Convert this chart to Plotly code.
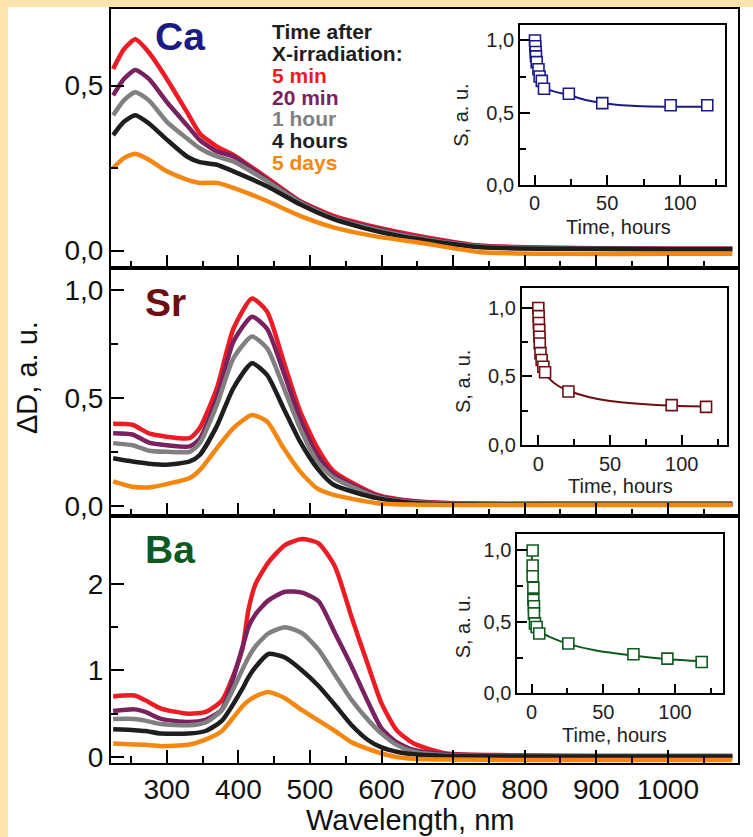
import plotly.graph_objects as go

# ---------------- data ----------------
series_names = ["5 min", "20 min", "1 hour", "4 hours", "5 days"]
series_colors = ["#EC1C24", "#7A2260", "#808080", "#1E1E1E", "#F5860F"]

wl_ca = [225, 240, 256, 275, 300, 328, 346, 370, 393, 440, 486, 533, 594, 650, 738, 850, 1000, 1090]
ca_5min = [0.55, 0.61, 0.64, 0.60, 0.52, 0.42, 0.355, 0.315, 0.29, 0.22, 0.15, 0.105, 0.07, 0.045, 0.015, 0.008, 0.005, 0.005]
ca_20min = [0.47, 0.52, 0.547, 0.52, 0.45, 0.38, 0.335, 0.30, 0.285, 0.215, 0.148, 0.10, 0.066, 0.04, 0.013, 0.007, 0.005, 0.005]
ca_1h = [0.41, 0.455, 0.48, 0.455, 0.39, 0.34, 0.31, 0.285, 0.27, 0.21, 0.145, 0.098, 0.062, 0.038, 0.012, 0.006, 0.004, 0.004]
ca_4h = [0.35, 0.39, 0.41, 0.385, 0.336, 0.285, 0.268, 0.26, 0.24, 0.195, 0.14, 0.095, 0.058, 0.035, 0.01, 0.005, 0.004, 0.004]
ca_5d = [0.25, 0.28, 0.293, 0.275, 0.24, 0.215, 0.205, 0.205, 0.19, 0.15, 0.105, 0.07, 0.042, 0.025, -0.005, -0.01, -0.01, -0.01]

wl_sr = [225, 252, 275, 300, 332, 346, 370, 393, 419, 440, 463, 486, 510, 533, 594, 650, 738, 850, 1000, 1090]
sr_5min = [0.38, 0.375, 0.335, 0.32, 0.313, 0.36, 0.545, 0.82, 0.96, 0.90, 0.67, 0.44, 0.27, 0.16, 0.05, 0.02, 0.01, 0.01, 0.01, 0.01]
sr_20min = [0.336, 0.33, 0.292, 0.28, 0.275, 0.31, 0.50, 0.76, 0.876, 0.82, 0.62, 0.405, 0.236, 0.145, 0.045, 0.018, 0.008, 0.008, 0.008, 0.008]
sr_1h = [0.29, 0.28, 0.255, 0.25, 0.25, 0.29, 0.468, 0.683, 0.784, 0.73, 0.55, 0.36, 0.205, 0.13, 0.04, 0.015, 0.007, 0.007, 0.007, 0.007]
sr_4h = [0.22, 0.205, 0.195, 0.19, 0.205, 0.235, 0.37, 0.545, 0.66, 0.606, 0.452, 0.298, 0.174, 0.097, 0.035, 0.012, 0.006, 0.005, 0.005, 0.005]
sr_5d = [0.113, 0.088, 0.085, 0.10, 0.128, 0.165, 0.267, 0.36, 0.42, 0.39, 0.267, 0.159, 0.08, 0.05, 0.012, 0.005, 0.003, 0.003, 0.003, 0.003]

wl_ba = [225, 255, 270, 292, 330, 354, 377, 405, 414, 424, 442, 465, 489, 512, 535, 558, 582, 600, 621, 645, 691, 784, 900, 1000, 1090]
ba_5min = [0.70, 0.71, 0.655, 0.56, 0.50, 0.52, 0.655, 1.23, 1.7, 2.0, 2.25, 2.45, 2.52, 2.47, 2.2, 1.62, 1.04, 0.62, 0.31, 0.155, 0.04, 0.02, 0.01, 0.01, 0.01]
ba_20min = [0.53, 0.55, 0.52, 0.44, 0.405, 0.43, 0.55, 1.25, 1.5, 1.65, 1.81, 1.91, 1.9, 1.8, 1.43, 1.05, 0.62, 0.33, 0.17, 0.08, 0.03, 0.015, 0.01, 0.01, 0.01]
ba_1h = [0.44, 0.44, 0.42, 0.38, 0.366, 0.40, 0.54, 1.0, 1.15, 1.28, 1.43, 1.5, 1.43, 1.24, 0.95, 0.66, 0.42, 0.27, 0.14, 0.06, 0.02, 0.01, 0.008, 0.008, 0.008]
ba_4h = [0.32, 0.31, 0.30, 0.27, 0.27, 0.30, 0.42, 0.78, 0.92, 1.04, 1.19, 1.15, 1.0, 0.82, 0.6, 0.37, 0.19, 0.11, 0.06, 0.03, 0.01, 0.005, 0.005, 0.005, 0.005]
ba_5d = [0.155, 0.145, 0.14, 0.125, 0.14, 0.2, 0.3, 0.58, 0.65, 0.7, 0.75, 0.68, 0.54, 0.42, 0.3, 0.17, 0.09, 0.04, 0.0, -0.02, -0.03, -0.035, -0.035, -0.035, -0.035]

# insets: S(t)
ca_t = [0.3, 0.5, 0.8, 1.0, 1.5, 2.7, 3.5, 5.0, 6.5, 23.6, 46.6, 93.6, 118.8]
ca_s = [1.0, 0.96, 0.92, 0.89, 0.85, 0.80, 0.75, 0.72, 0.665, 0.63, 0.565, 0.55, 0.55]
ca_fit_t = [0, 1, 2, 4, 7, 12, 24, 36, 47, 70, 94, 120]
ca_fit_s = [0.99, 0.86, 0.79, 0.72, 0.67, 0.65, 0.62, 0.585, 0.565, 0.545, 0.54, 0.54]

sr_t = [0, 0.2, 0.4, 0.6, 0.8, 1.0, 1.5, 2.3, 3.5, 4.7, 21, 93, 117]
sr_s = [1.0, 0.94, 0.89, 0.84, 0.79, 0.74, 0.67, 0.62, 0.57, 0.53, 0.39, 0.29, 0.277]
sr_fit_t = [0, 1, 2, 3, 5, 8, 14, 21, 35, 50, 70, 94, 118]
sr_fit_s = [1.0, 0.78, 0.68, 0.61, 0.53, 0.48, 0.43, 0.395, 0.35, 0.32, 0.30, 0.285, 0.28]

ba_t = [0.7, 0.7, 0.7, 1.2, 1.2, 1.6, 1.6, 2.3, 3.5, 5.3, 25.6, 71, 94.7, 118.6]
ba_s = [1.0, 0.895, 0.82, 0.74, 0.655, 0.61, 0.56, 0.49, 0.465, 0.42, 0.35, 0.274, 0.244, 0.22]
ba_fit_t = [0, 0.5, 1, 2, 3, 5, 8, 15, 26, 45, 71, 95, 120]
ba_fit_s = [1.0, 0.85, 0.73, 0.6, 0.52, 0.45, 0.42, 0.385, 0.345, 0.3, 0.265, 0.24, 0.225]

panel_labels = ["Ca", "Sr", "Ba"]
panel_colors = ["#1B1B87", "#6E0E14", "#0E5A1E"]

main_xticks = [300, 400, 500, 600, 700, 800, 900, 1000]
main_xminor = [250, 350, 450, 550, 650, 750, 850, 950, 1050]

# ---------------- layout helpers ----------------
W, H = 753, 837
L, R, T, B = 111, 738, 7, 763


def px(x):
    return (x - L) / (R - L)


def py(y):
    return (B - y) / (B - T)


FONT = "Liberation Sans, Arial, sans-serif"
fig = go.Figure()

panels = [
    (wl_ca, [ca_5min, ca_20min, ca_1h, ca_4h, ca_5d], "x", "y"),
    (wl_sr, [sr_5min, sr_20min, sr_1h, sr_4h, sr_5d], "x2", "y2"),
    (wl_ba, [ba_5min, ba_20min, ba_1h, ba_4h, ba_5d], "x3", "y3"),
]
for wl, ser, xa, ya in panels:
    for name, col, vals in zip(series_names, series_colors, ser):
        fig.add_trace(go.Scatter(x=wl, y=vals, mode="lines", name=name,
                                 line=dict(color=col, width=4.5, shape="spline", smoothing=0.6),
                                 xaxis=xa, yaxis=ya, showlegend=False))

insets = [
    (ca_t, ca_s, ca_fit_t, ca_fit_s, panel_colors[0], "x4", "y4"),
    (sr_t, sr_s, sr_fit_t, sr_fit_s, panel_colors[1], "x5", "y5"),
    (ba_t, ba_s, ba_fit_t, ba_fit_s, panel_colors[2], "x6", "y6"),
]
for t, s, ft, fs, col, xa, ya in insets:
    fig.add_trace(go.Scatter(x=ft, y=fs, mode="lines", line=dict(color=col, width=2, shape="spline", smoothing=0.6),
                             xaxis=xa, yaxis=ya, showlegend=False))
    fig.add_trace(go.Scatter(x=t, y=s, mode="markers",
                             marker=dict(symbol="square", size=11, color="white", line=dict(color=col, width=1.6)),
                             xaxis=xa, yaxis=ya, showlegend=False))

axis_common = dict(showline=True, linecolor="black", linewidth=2, mirror=True, showgrid=False,
                   zeroline=False, ticks="inside", tickcolor="black", tickwidth=2)

main_domains = [[py(267), 1.0], [py(515), py(267)], [0.0, py(515)]]
main_yranges = [[-0.054, 0.732], [-0.046, 1.10], [-0.07, 2.79]]
main_yticks = [([0, 0.5], ["0,0", "0,5"], [0.25]),
               ([0, 0.5, 1.0], ["0,0", "0,5", "1,0"], [0.25, 0.75]),
               ([0, 1, 2], ["0", "1", "2"], [0.5, 1.5])]

lay = {}
for i in range(3):
    xn = "xaxis" if i == 0 else f"xaxis{i + 1}"
    yn = "yaxis" if i == 0 else f"yaxis{i + 1}"
    yref = "y" if i == 0 else f"y{i + 1}"
    xref = "x" if i == 0 else f"x{i + 1}"
    lay[xn] = dict(axis_common, domain=[0, 1], anchor=yref, range=[222, 1098],
                   tickvals=main_xticks, ticklen=13,
                   minor=dict(tickvals=main_xminor, ticklen=7, ticks="inside", tickwidth=2, tickcolor="black"),
                   showticklabels=(i == 2),
                   tickfont=dict(family=FONT, size=28, color="#111"))
    tv, tt, mn = main_yticks[i]
    lay[yn] = dict(axis_common, domain=main_domains[i], anchor=xref, range=main_yranges[i],
                   tickvals=tv, ticktext=tt, ticklen=13,
                   minor=dict(tickvals=mn, ticklen=7, ticks="inside", tickwidth=2, tickcolor="black"),
                   tickfont=dict(family=FONT, size=28, color="#111"))

inset_boxes = [(520, 725, 22.7, 183, [-10, 131], [0, 1.11]),
               (521.7, 726.7, 286.7, 444, [-11.6, 131.4], [0, 1.146]),
               (517.3, 723.3, 533.3, 693.3, [-10, 133.7], [0, 1.116])]
for j, (x0, x1, y0, y1, xr, yr) in enumerate(inset_boxes):
    k = j + 4
    lay[f"xaxis{k}"] = dict(axis_common, domain=[px(x0), px(x1)], anchor=f"y{k}", range=xr,
                            tickvals=[0, 50, 100], ticklen=10, tickwidth=1.5,
                            minor=dict(tickvals=[25, 75, 125], ticklen=6, ticks="inside", tickwidth=1.5, tickcolor="black"),
                            tickfont=dict(family=FONT, size=20, color="#222"), linewidth=1.8)
    lay[f"yaxis{k}"] = dict(axis_common, domain=[py(y1), py(y0)], anchor=f"x{k}", range=yr,
                            tickvals=[0, 0.5, 1.0], ticktext=["0,0", "0,5", "1,0"], ticklen=10, tickwidth=1.5,
                            minor=dict(tickvals=[0.25, 0.75], ticklen=6, ticks="inside", tickwidth=1.5, tickcolor="black"),
                            tickfont=dict(family=FONT, size=20, color="#222"), linewidth=1.8)

annotations = []


def ann(text, x, y, size, color="#111", bold=False, angle=0, xanchor="center", yanchor="middle"):
    annotations.append(dict(text=f"<b>{text}</b>" if bold else text, x=px(x), y=py(y), xref="paper", yref="paper",
                            showarrow=False, textangle=angle, xanchor=xanchor, yanchor=yanchor,
                            font=dict(family=FONT, size=size, color=color)))


# panel labels
ann(panel_labels[0], 153, 35, 39, panel_colors[0], True, xanchor="left")
ann(panel_labels[1], 143, 301, 39, panel_colors[1], True, xanchor="left")
ann(panel_labels[2], 143, 549, 39, panel_colors[2], True, xanchor="left")

# legend block
legend_lines = [("Time after", "#1E1E1E"), ("X-irradiation:", "#1E1E1E")] + list(zip(series_names, series_colors))
for n, (txt, col) in enumerate(legend_lines):
    ann(txt, 270, 30 + n * 21.8, 21, col, True, xanchor="left")

# axis titles
ann("ΔD, a. u.", 27, 377, 29, "#111", angle=-90)
ann("Wavelength, nm", 410, 820, 29, "#111")

# inset titles
for (sx, sy), (tx, ty) in [((461, 114), (618, 226)), ((463, 381), (620, 485)), ((463, 627), (614, 735))]:
    ann("S, a. u.", sx, sy, 20, "#222", angle=-90)
    ann("Time, hours", tx, ty, 20, "#222")

shapes = [dict(type="rect", xref="paper", yref="paper", x0=px(8), x1=px(760), y0=py(845), y1=py(5),
               fillcolor="white", line=dict(width=0), layer="below")]

fig.update_layout(width=W, height=H, margin=dict(l=L, r=W - R, t=T, b=H - B, pad=0),
                  paper_bgcolor="#FEE3AE", plot_bgcolor="white", showlegend=False,
                  annotations=annotations, shapes=shapes, **lay)

fig.write_html("out.html")
